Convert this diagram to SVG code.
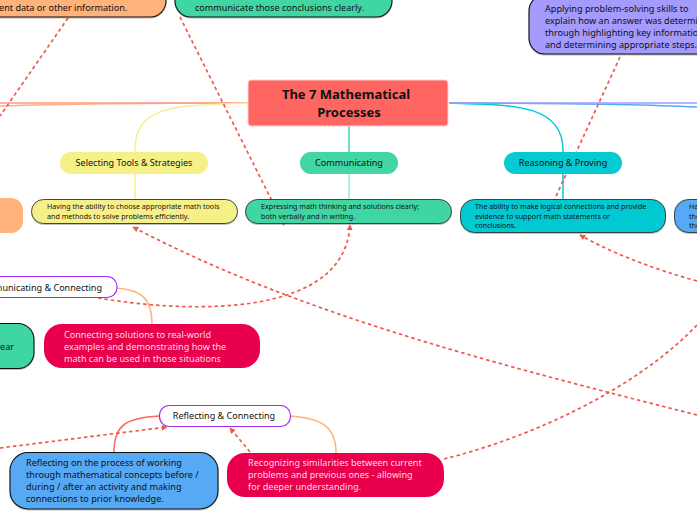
<svg xmlns="http://www.w3.org/2000/svg" width="697" height="520" viewBox="0 0 697 520">
<style>
text{font-family:"Noto Sans","Open Sans",sans-serif;fill:#111}
.s{font-size:9.05px}.m{font-size:9.1px}.d{font-size:7.15px}
.w{fill:#fbdbe6}
.desc{stroke:#333;stroke-width:.9;filter:url(#sh)}
.big{stroke:#111;stroke-width:1.1;filter:url(#sh)}
.dash{fill:none;stroke:#f0584f;stroke-width:1.7;stroke-dasharray:3.500 3}
.line{fill:none;stroke-width:1.5}
</style>
<defs>
<filter id="sh" x="-5%" y="-5%" width="110%" height="120%"><feDropShadow dx="0" dy="1" stdDeviation="0.5" flood-color="#000" flood-opacity="0.25"/></filter>
<marker id="a" viewBox="0 0 8 8" refX="7" refY="4" markerWidth="6" markerHeight="6" orient="auto-start-reverse" markerUnits="userSpaceOnUse"><path d="M0 0L8 4L0 8Z" fill="#f0584f"/></marker>
</defs>
<g id="connectors">
<path class="line" stroke="#ffb27a" stroke-width="2" d="M248 103C160 103 60 104 0 106"/>
<path class="line" stroke="#ff9a94" stroke-width="2" d="M248 103H0"/>
<path class="line" stroke="#f6f088" d="M248 103C180 106 135 103 135 150V199"/>
<path class="line" stroke="#41d6a3" d="M349 126V152"/>
<path class="line" stroke="#9ce8cd" d="M349 174V199"/>
<path class="line" stroke="#06c9d2" d="M449 103C510 105 563 103 563 150V199"/>
<path class="line" stroke="#57a9f5" d="M449 103C550 103 640 104 697 107"/>
<path class="line" stroke="#a49bfd" stroke-width="2" d="M449 103H697"/>
<path class="line" stroke="#ffb27a" d="M117 288C140 290 152 297 152 324"/>
<path class="line" stroke="#ff6661" d="M159 416C130 418 114 422 114 452"/>
<path class="line" stroke="#ffb27a" d="M290 416C318 418 336 424 336 453"/>
<path class="dash" d="M68 18L0 116"/>
<path class="dash" marker-end="url(#a)" d="M180 17L284 225"/>
<path class="dash" d="M620 57L552 205"/>
<path class="dash" marker-end="url(#a)" d="M697 415C500 365 300 315 133 227"/>
<path class="dash" marker-end="url(#a)" d="M697 281C650 268 610 252 580 235"/>
<path class="dash" marker-end="url(#a)" d="M98 298C200 315 345 315 350 225"/>
<path class="dash" d="M444 459C540 435 640 385 697 325"/>
<path class="dash" marker-end="url(#a)" d="M0 448L167 427"/>
<path class="dash" marker-end="url(#a)" d="M250 452L230 428"/>
</g>
<g id="top-orange"><rect class="big" x="-40" y="-40" width="206" height="57" rx="16" fill="#ffb27a"/><text class="m" x="-1" y="11">ent data or other information.</text></g>
<g id="top-green"><rect class="big" x="175" y="-40" width="217" height="57" rx="16" fill="#41d6a3"/><text class="m" x="195" y="11">communicate those conclusions clearly.</text></g>
<g id="top-purple"><rect class="big" x="529" y="-5" width="200" height="59" rx="16" fill="#a49bfd"/>
<text class="m"><tspan x="545" y="12">Applying problem-solving skills to</tspan><tspan x="545" y="24">explain how an answer was determi</tspan><tspan x="545" y="36">through highlighting key informatio</tspan><tspan x="545" y="48">and determining appropriate steps.</tspan></text></g>
<g id="central"><rect x="248" y="80" width="200" height="46" rx="3" fill="#ff6661" stroke="#ffd0cc"/><text x="346" y="99" text-anchor="middle" font-size="13" font-weight="700">The 7 Mathematical</text><text x="349" y="117" text-anchor="middle" font-size="13" font-weight="700">Processes</text></g>
<g id="selecting"><rect x="60" y="152" width="148" height="22" rx="11" fill="#f6f088"/><text class="s" x="134" y="166" text-anchor="middle">Selecting Tools &amp; Strategies</text></g>
<g id="communicating"><rect x="300" y="152" width="98" height="22" rx="11" fill="#41d6a3"/><text class="s" x="349" y="166" text-anchor="middle">Communicating</text></g>
<g id="reasoning"><rect x="504" y="152" width="118" height="22" rx="11" fill="#06c9d2"/><text class="s" x="563" y="166" text-anchor="middle">Reasoning &amp; Proving</text></g>
<g id="orange-left"><rect x="-40" y="198" width="63" height="35" rx="12" fill="#ffb27a"/></g>
<g id="selecting-desc"><rect class="desc" x="31.500" y="199.500" width="206" height="24" rx="12" fill="#f6f088"/><text class="d"><tspan x="47" y="209">Having the ability to choose appropriate math tools</tspan><tspan x="47" y="219">and methods to solve problems efficiently.</tspan></text></g>
<g id="communicating-desc"><rect class="desc" x="245.500" y="199.500" width="206" height="24" rx="12" fill="#41d6a3"/><text class="d"><tspan x="261" y="209">Expressing math thinking and solutions clearly;</tspan><tspan x="261" y="219">both verbally and in writing.</tspan></text></g>
<g id="reasoning-desc"><rect class="desc" x="460.500" y="199.500" width="205" height="33" rx="14" fill="#06c9d2"/><text class="d"><tspan x="475" y="209">The ability to make logical connections and provide</tspan><tspan x="475" y="219">evidence to support math statements or</tspan><tspan x="475" y="228">conclusions.</tspan></text></g>
<g id="blue-right"><rect class="desc" x="674.500" y="199.500" width="60" height="33" rx="14" fill="#57a9f5"/><text class="d"><tspan x="689" y="209">Ha</tspan><tspan x="689" y="219">the</tspan><tspan x="689" y="228">the</tspan></text></g>
<g id="communicating-connecting"><rect x="-60" y="276.500" width="177" height="21" rx="10" fill="#fff" stroke="#a52af0" stroke-width="1.200"/><text class="s" x="102" y="291" text-anchor="end">nunicating &amp; Connecting</text></g>
<g id="connecting-desc"><rect x="44" y="324" width="216" height="44" rx="18" fill="#e8004c"/><text class="m w"><tspan x="64" y="338">Connecting solutions to real-world</tspan><tspan x="64" y="350">examples and demonstrating how the</tspan><tspan x="64" y="362">math can be used in those situations</tspan></text></g>
<g id="green-left"><rect class="big" x="-60" y="323.500" width="94" height="45" rx="16" fill="#41d6a3"/><text class="m" x="0" y="350">ear</text></g>
<g id="reflecting"><rect x="159.500" y="405.500" width="131" height="21" rx="10" fill="#fff" stroke="#a52af0" stroke-width="1.200"/><text class="s" x="224" y="419" text-anchor="middle">Reflecting &amp; Connecting</text></g>
<g id="reflecting-desc"><rect class="big" x="10" y="452.500" width="208" height="56.500" rx="18" fill="#57a9f5"/><text class="m"><tspan x="26" y="466">Reflecting on the process of working</tspan><tspan x="26" y="478">through mathematical concepts before /</tspan><tspan x="26" y="490">during / after an activity and making</tspan><tspan x="26" y="502">connections to prior knowledge.</tspan></text></g>
<g id="recognizing"><rect x="227" y="453" width="217" height="44" rx="18" fill="#e8004c"/><text class="m w"><tspan x="248" y="466">Recognizing similarities between current</tspan><tspan x="248" y="478">problems and previous ones - allowing</tspan><tspan x="248" y="490">for deeper understanding.</tspan></text></g>
</svg>
